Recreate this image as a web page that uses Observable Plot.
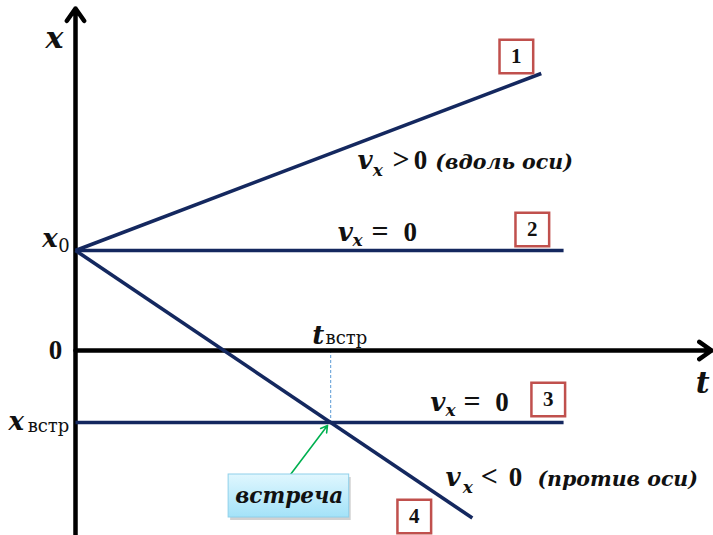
<!DOCTYPE html>
<html><head><meta charset="utf-8">
<script src="https://cdn.jsdelivr.net/npm/d3@7"></script>
<script src="https://cdn.jsdelivr.net/npm/@observablehq/plot@0.6"></script>
<style>body{margin:0;background:#fff} svg{display:block}</style>
</head><body><div id="chart"></div>
<script>
// ---- data (t = time, x = coordinate) ----
const lineIds = ["1", "2", "3", "4"];
const lineT0 = [0, 0, 0, 0];
const lineX0 = [2, 2, -1.44, 2];
const lineT1 = [7.30, 7.65, 7.65, 6.22];
const lineX1 = [5.54, 2, -1.44, -3.35];
const x0 = 2, tMeet = 4, xMeet = -1.44;

const boxT = [6.91, 7.16, 7.41, 5.31];
const boxX = [5.88, 2.42, -0.98, -3.32];

const labelText = ["x", "x", "0", "0", "x", "встр", "t", "t", "встр",
  "v", "x", ">", "0", "(вдоль оси)",
  "v", "x", "=", "0",
  "v", "x", "=", "0",
  "v", "x", "<", "0", "(против оси)"];
const labelT = [-0.47, -0.52, -0.27, -0.42, -1.05, -0.75, 9.72, 3.71, 3.92,
  4.42, 4.66, 4.97, 5.30, 5.64,
  4.11, 4.34, 4.64, 5.14,
  5.56, 5.80, 6.08, 6.58,
  5.80, 6.07, 6.35, 6.79, 7.24];
const labelX = [6.06, 2.08, 1.98, -0.16, -1.58, -1.62, -0.84, 0.14, 0.14,
  3.64, 3.50, 3.64, 3.64, 3.64,
  2.20, 2.10, 2.20, 2.20,
  -1.20, -1.30, -1.20, -1.20,
  -2.70, -2.84, -2.70, -2.70, -2.70];
const labelKind = ["axis", "mi", "subr", "op", "mi", "subr", "axis", "mi", "subr",
  "mi", "sub", "rel", "op", "word",
  "mi", "sub", "rel", "op",
  "mi", "sub", "rel", "op",
  "mi", "sub", "rel", "op", "word"];

const calloutText = ["встреча"];
const calloutT = [3.35], calloutX = [-2.91];
const calloutT1 = [2.40], calloutT2 = [4.29], calloutX1 = [-2.48], calloutX2 = [-3.34];
const pointerT1 = [3.37], pointerX1 = [-2.48], pointerT2 = [3.95], pointerX2 = [-1.50];

const axisT1 = [0, 0], axisX1 = [-3.8, 0], axisT2 = [0, 9.97], axisX2 = [6.84, 0];

// ---- build tables ----
const lines = lineIds.map((id, i) => ({id, t0: lineT0[i], x0: lineX0[i], t1: lineT1[i], x1: lineX1[i]}));
const boxes = lineIds.map((id, i) => ({id, t: boxT[i], x: boxX[i]}));
const labels = labelText.map((s, i) => ({s, t: labelT[i], x: labelX[i], k: labelKind[i]}));
const axes = axisT1.map((_, i) => ({t1: axisT1[i], x1: axisX1[i], t2: axisT2[i], x2: axisX2[i]}));
const callouts = calloutText.map((s, i) => ({s, t: calloutT[i], x: calloutX[i], ta: calloutT1[i], tb: calloutT2[i], xa: calloutX1[i], xb: calloutX2[i]}));
const pointers = pointerT1.map((_, i) => ({t1: pointerT1[i], x1: pointerX1[i], t2: pointerT2[i], x2: pointerX2[i]}));

const FONT = "DejaVu Serif";
const FONT2 = "Liberation Serif";
const styles = {
  axis: {fontFamily: FONT, fontSize: 30, fontStyle: "italic", fontWeight: "bold"},
  mi:   {fontFamily: FONT, fontSize: 26, fontStyle: "italic", fontWeight: "bold"},
  sub:  {fontFamily: FONT, fontSize: 17, fontStyle: "italic", fontWeight: "bold"},
  op:   {fontFamily: FONT2, fontSize: 27, fontStyle: "normal", fontWeight: "bold"},
  rel:  {fontFamily: FONT2, fontSize: 30, fontStyle: "normal", fontWeight: "bold"},
  word: {fontFamily: FONT, fontSize: 20.5, fontStyle: "italic", fontWeight: "bold"},
  subr: {fontFamily: FONT, fontSize: 18, fontStyle: "normal", fontWeight: "normal"}
};
const textMarks = Object.entries(styles).map(([k, st]) =>
  Plot.text(labels.filter(d => d.k === k), {
    x: "t", y: "x", text: "s", textAnchor: "start", lineAnchor: "bottom",
    fill: "#111", ...st
  }));

const NAVY = "#14285f";
const chart = Plot.plot({
  width: 713, height: 535,
  marginLeft: 75, marginRight: 0, marginTop: 0, marginBottom: 0,
  x: {domain: [0, 10], axis: null},
  y: {domain: [-3.7, 7.0], axis: null},
  marks: [
    Plot.ruleX([tMeet], {y1: 0, y2: xMeet, stroke: "#5b9bd5", strokeWidth: 1, strokeDasharray: "3,2"}),
    Plot.arrow(axes, {x1: "t1", y1: "x1", x2: "t2", y2: "x2", stroke: "#000", strokeWidth: 4.5, headLength: 5, headAngle: 70}),
    Plot.link(lines, {x1: "t0", y1: "x0", x2: "t1", y2: "x1", stroke: NAVY, strokeWidth: 3.6}),
    Plot.arrow(pointers, {x1: "t1", y1: "x1", x2: "t2", y2: "x2", stroke: "#00b050", strokeWidth: 1.6, headLength: 7, headAngle: 60}),
    Plot.rect(callouts, {x1: "ta", x2: "tb", y1: "xa", y2: "xb", fill: "#9a9a9a", fillOpacity: 0.45, dx: 2, dy: 3}),
    Plot.rect(callouts, {x1: "ta", x2: "tb", y1: "xa", y2: "xb", fill: "url(#callGrad)", stroke: "#8fd0ea", strokeWidth: 1}),
    Plot.text(callouts, {x: "t", y: "x", text: "s", fontFamily: FONT, fontStyle: "italic", fontWeight: "bold", fontSize: 21.5, fill: "#111"}),
    Plot.dot(boxes, {x: "t", y: "x", symbol: "square", r: 19, fill: "#fff", stroke: "#c0504d", strokeWidth: 2.5}),
    Plot.text(boxes, {x: "t", y: "x", text: "id", fontFamily: FONT2, fontWeight: "bold", fontSize: 21, fill: "#111"}),
    ...textMarks
  ]
});
const svgNS = "http://www.w3.org/2000/svg";
const defs = document.createElementNS(svgNS, "defs");
defs.innerHTML = '<linearGradient id="callGrad" x1="0" y1="0" x2="0" y2="1"><stop offset="0" stop-color="#e0f7fe"/><stop offset="1" stop-color="#a3e2f8"/></linearGradient>';
chart.insertBefore(defs, chart.firstChild);
document.getElementById("chart").appendChild(chart);
</script>
</body></html>
